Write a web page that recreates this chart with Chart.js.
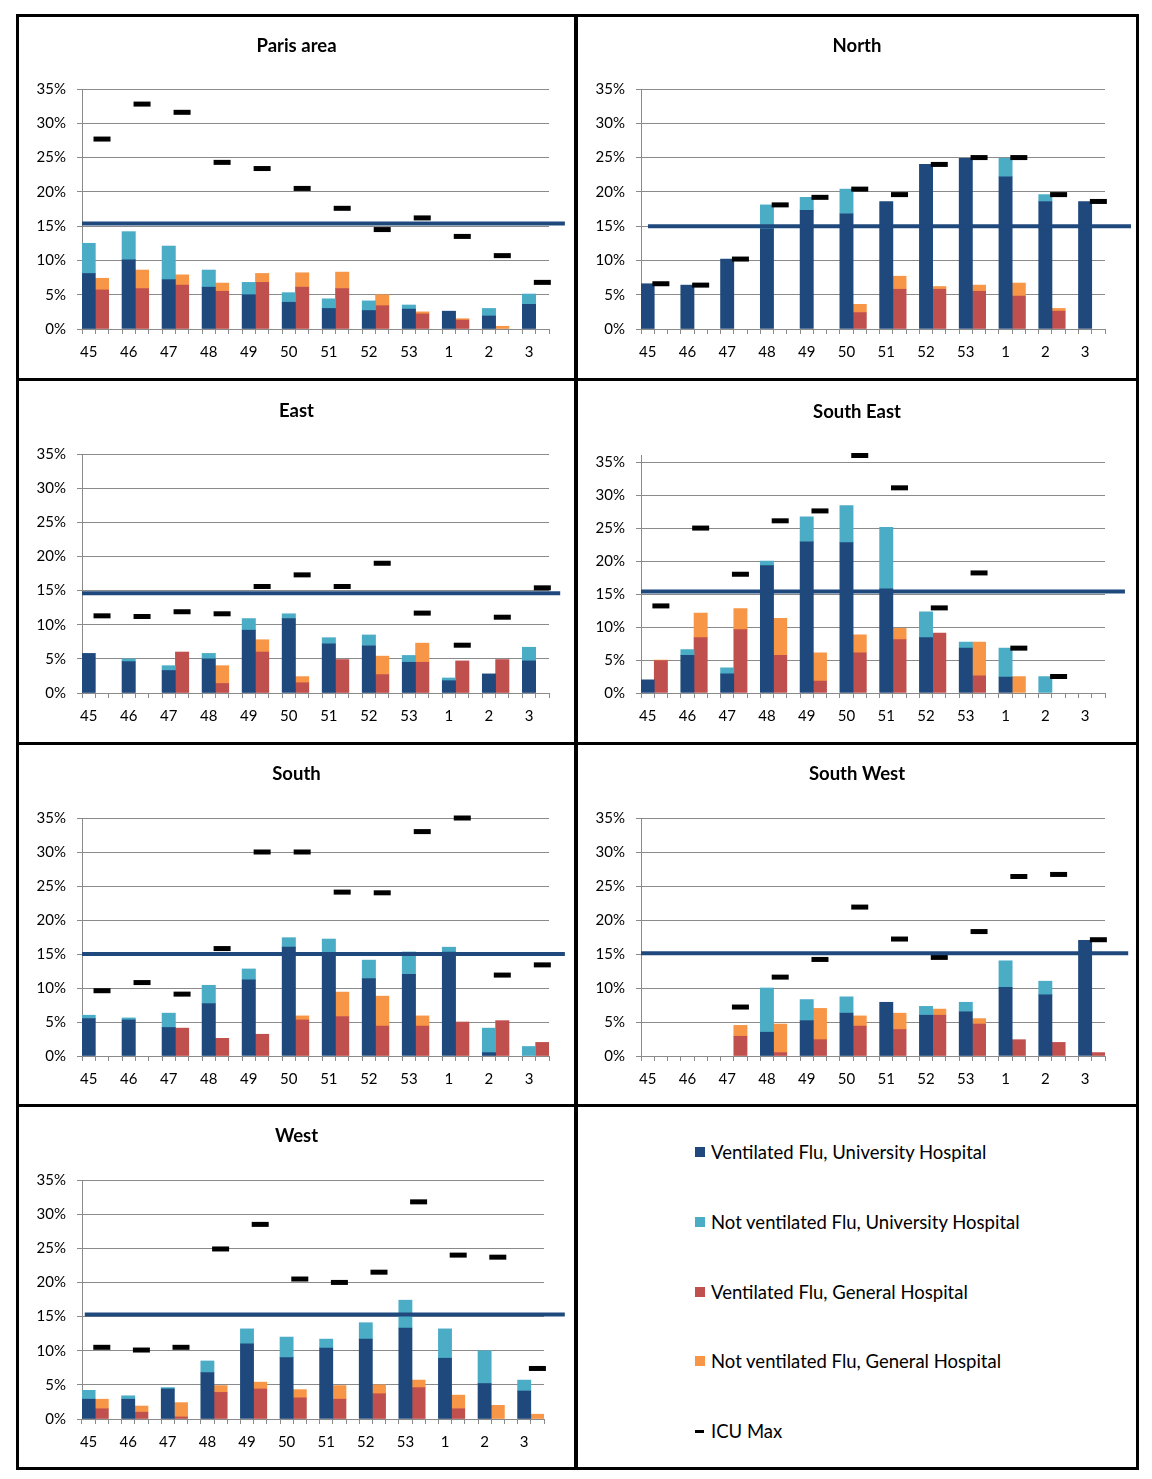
<!DOCTYPE html>
<html><head><meta charset="utf-8">
<script src="https://cdn.jsdelivr.net/npm/chart.js@4.4.1/dist/chart.umd.min.js"></script>
<style>
html,body{margin:0;padding:0;background:#fff;}
body{width:1152px;height:1479px;position:relative;overflow:hidden;font-family:Lato,'Open Sans',sans-serif;}
.bl{position:absolute;background:#000;}
.cell{position:absolute;}
.cell canvas{display:block;}
.lg{position:absolute;left:695px;font-size:18.5px;color:#000;white-space:nowrap;line-height:20px;}
.lg i{position:absolute;left:0;top:5px;width:10px;height:10px;}
.lg span{position:absolute;left:16px;top:0;}
</style></head><body>

<div class="bl" style="left:16px;top:14px;width:1123px;height:3px"></div>
<div class="bl" style="left:16px;top:1467px;width:1123px;height:3px"></div>
<div class="bl" style="left:16px;top:14px;width:3px;height:1456px"></div>
<div class="bl" style="left:1136px;top:14px;width:3px;height:1456px"></div>
<div class="bl" style="left:574px;top:14px;width:4px;height:1456px"></div>
<div class="bl" style="left:16px;top:378px;width:1123px;height:3px"></div>
<div class="bl" style="left:16px;top:742px;width:1123px;height:3px"></div>
<div class="bl" style="left:16px;top:1104px;width:1123px;height:3px"></div>

<div id="c0" class="cell" style="left:19px;top:17px;width:555px;height:361px"><canvas></canvas></div>
<div id="c1" class="cell" style="left:578px;top:17px;width:558px;height:361px"><canvas></canvas></div>
<div id="c2" class="cell" style="left:19px;top:381px;width:555px;height:361px"><canvas></canvas></div>
<div id="c3" class="cell" style="left:578px;top:381px;width:558px;height:361px"><canvas></canvas></div>
<div id="c4" class="cell" style="left:19px;top:745px;width:555px;height:359px"><canvas></canvas></div>
<div id="c5" class="cell" style="left:578px;top:745px;width:558px;height:359px"><canvas></canvas></div>
<div id="c6" class="cell" style="left:19px;top:1107px;width:555px;height:360px"><canvas></canvas></div>

<div id="legend"></div>

<script>
// ---------------- DATA ----------------
const WEEKS = ['45','46','47','48','49','50','51','52','53','1','2','3'];
const SERIES_NAMES = ['Ventilated Flu, University Hospital','Not ventilated Flu, University Hospital','Ventilated Flu, General Hospital','Not ventilated Flu, General Hospital','ICU Max'];
const REGION_NAMES = ['Paris area','North','East','South East','South','South West','West'];

const PARIS_VENT_UNIV    = [8.1,10.1,7.2,6.1,5.0,3.9,3.0,2.7,2.9,2.6,1.9,3.6];
const PARIS_NOTVENT_UNIV = [4.4,4.1,4.9,2.5,1.8,1.4,1.4,1.4,0.6,0,1.1,1.5];
const PARIS_VENT_GEN     = [5.7,5.9,6.4,5.5,6.8,6.1,5.9,3.4,2.2,1.3,0,0];
const PARIS_NOTVENT_GEN  = [1.7,2.7,1.5,1.2,1.3,2.1,2.4,1.6,0.3,0.2,0.4,0];
const PARIS_ICU_MAX      = [27.7,32.8,31.6,24.3,23.4,20.5,17.6,14.5,16.2,13.5,10.7,6.8];

const NORTH_VENT_UNIV    = [6.6,6.4,10.2,14.6,17.3,16.8,18.6,24.0,24.9,22.2,18.6,18.6];
const NORTH_NOTVENT_UNIV = [0,0,0,3.5,1.9,3.6,0,0,0,2.7,1.0,0];
const NORTH_VENT_GEN     = [0,0,0,0,0,2.4,5.8,5.8,5.5,4.8,2.6,0];
const NORTH_NOTVENT_GEN  = [0,0,0,0,0,1.2,1.9,0.4,0.9,1.9,0.4,0];
const NORTH_ICU_MAX      = [6.6,6.4,10.2,18.1,19.2,20.4,19.6,24.0,25.0,25.0,19.6,18.6];

const EAST_VENT_UNIV     = [5.8,4.6,3.3,5.0,9.2,10.9,7.2,6.9,4.5,1.8,2.8,4.7];
const EAST_NOTVENT_UNIV  = [0,0.4,0.7,0.8,1.7,0.7,0.9,1.6,1.0,0.4,0,2.0];
const EAST_VENT_GEN      = [0,0,6.0,1.4,6.0,1.5,4.9,2.7,4.5,4.7,4.9,0];
const EAST_NOTVENT_GEN   = [0,0,0,2.6,1.8,0.9,0,2.7,2.8,0,0,0];
const EAST_ICU_MAX       = [11.3,11.2,11.9,11.6,15.6,17.3,15.6,19.0,11.7,7.0,11.1,15.4];

const SOUTHEAST_VENT_UNIV    = [2.0,5.7,2.9,19.3,22.9,22.8,15.8,8.4,6.8,2.4,0,0];
const SOUTHEAST_NOTVENT_UNIV = [0,0.9,0.9,0.7,3.8,5.6,9.3,3.9,0.9,4.4,2.5,0];
const SOUTHEAST_VENT_GEN     = [4.9,8.4,9.6,5.7,1.8,6.1,8.1,9.1,2.6,0,0,0];
const SOUTHEAST_NOTVENT_GEN  = [0.1,3.7,3.2,5.6,4.3,2.7,1.7,0,5.1,2.5,0,0];
const SOUTHEAST_ICU_MAX      = [13.2,25.0,18.0,26.1,27.6,36.0,31.1,12.9,18.2,6.8,2.5,null];

const SOUTH_VENT_UNIV    = [5.5,5.3,4.2,7.7,11.2,16.0,15.0,11.4,12.0,15.3,0.5,0];
const SOUTH_NOTVENT_UNIV = [0.5,0.3,2.1,2.7,1.6,1.4,2.2,2.7,3.3,0.7,3.6,1.4];
const SOUTH_VENT_GEN     = [0,0,4.1,2.6,3.2,5.3,5.8,4.4,4.4,5.0,5.2,2.0];
const SOUTH_NOTVENT_GEN  = [0,0,0,0,0,0.6,3.6,4.4,1.5,0,0,0];
const SOUTH_ICU_MAX      = [9.6,10.8,9.1,15.8,30.0,30.0,24.1,24.0,33.0,35.0,11.9,13.4];

const SOUTHWEST_VENT_UNIV    = [0,0,0,3.5,5.2,6.3,7.9,6.0,6.5,10.1,9.0,17.0];
const SOUTHWEST_NOTVENT_UNIV = [0,0,0,6.5,3.1,2.4,0,1.3,1.4,3.9,2.0,0];
const SOUTHWEST_VENT_GEN     = [0,0,2.9,0.5,2.4,4.4,3.9,6.0,4.7,2.4,2.0,0.5];
const SOUTHWEST_NOTVENT_GEN  = [0,0,1.6,4.2,4.6,1.5,2.4,0.9,0.8,0,0,0];
const SOUTHWEST_ICU_MAX      = [null,null,7.2,11.6,14.2,21.9,17.2,14.5,18.3,26.4,26.7,17.1];

const WEST_VENT_UNIV    = [2.9,2.9,4.4,6.8,11.0,9.0,10.4,11.7,13.3,8.9,5.2,4.1];
const WEST_NOTVENT_UNIV = [1.3,0.5,0.2,1.7,2.2,3.0,1.3,2.4,4.1,4.3,4.8,1.6];
const WEST_VENT_GEN     = [1.5,1.0,0.3,3.9,4.4,3.1,2.9,3.7,4.6,1.5,0,0];
const WEST_NOTVENT_GEN  = [1.4,0.9,2.1,1.0,1.0,1.2,2.0,1.3,1.1,2.0,2.0,0.7];
const WEST_ICU_MAX      = [10.5,10.1,10.5,24.9,28.5,20.5,20.0,21.5,31.8,24.0,23.7,7.4];

// horizontal reference level per region (%)
const THRESHOLDS = [15.4,15.0,14.6,15.4,15.0,15.1,15.3];
const Y_TICK_VALUES = [0,5,10,15,20,25,30,35];

// ---------------- STYLE / LAYOUT ----------------
const COLORS = ['#1F497D','#4BACC6','#C0504D','#F79646'];
const FONT = "Lato, 'Open Sans', sans-serif";
const GRID = '#8a8a8a';
// per panel: title centre, plot top / bottom (px from cell top), right margin, y max, reference-line extent (fraction of plot width)
const LAYOUT = [
  {titleY:29, plotTop:72, plotBottom:312, padRight:25, yMax:35, span:[0,1.034]},
  {titleY:29, plotTop:72, plotBottom:312, padRight:31, yMax:35, span:[0.015,1.056]},
  {titleY:30, plotTop:73, plotBottom:312, padRight:25, yMax:35, span:[0,1.024]},
  {titleY:31, plotTop:74.5, plotBottom:312, padRight:31, yMax:36, span:[0,1.043]},
  {titleY:29, plotTop:73, plotBottom:311, padRight:25, yMax:35, span:[0,1.034]},
  {titleY:29, plotTop:73, plotBottom:311, padRight:31, yMax:35, span:[0,1.05]},
  {titleY:29, plotTop:73, plotBottom:312, padRight:30, yMax:35, span:[0.006,1.045]}
];

const REGION_DATA = [
  [PARIS_VENT_UNIV,PARIS_NOTVENT_UNIV,PARIS_VENT_GEN,PARIS_NOTVENT_GEN,PARIS_ICU_MAX],
  [NORTH_VENT_UNIV,NORTH_NOTVENT_UNIV,NORTH_VENT_GEN,NORTH_NOTVENT_GEN,NORTH_ICU_MAX],
  [EAST_VENT_UNIV,EAST_NOTVENT_UNIV,EAST_VENT_GEN,EAST_NOTVENT_GEN,EAST_ICU_MAX],
  [SOUTHEAST_VENT_UNIV,SOUTHEAST_NOTVENT_UNIV,SOUTHEAST_VENT_GEN,SOUTHEAST_NOTVENT_GEN,SOUTHEAST_ICU_MAX],
  [SOUTH_VENT_UNIV,SOUTH_NOTVENT_UNIV,SOUTH_VENT_GEN,SOUTH_NOTVENT_GEN,SOUTH_ICU_MAX],
  [SOUTHWEST_VENT_UNIV,SOUTHWEST_NOTVENT_UNIV,SOUTHWEST_VENT_GEN,SOUTHWEST_NOTVENT_GEN,SOUTHWEST_ICU_MAX],
  [WEST_VENT_UNIV,WEST_NOTVENT_UNIV,WEST_VENT_GEN,WEST_NOTVENT_GEN,WEST_ICU_MAX]
];

// slot axis: for every week a University slot, a General slot and a gap (none after the last week)
const NSLOTS = WEEKS.length * 3 - 1;
const SLOT_LABELS = [];
for (let s = 0; s < NSLOTS; s++) SLOT_LABELS.push(s % 3 === 0 ? WEEKS[s / 3] : '');
function toSlots(arr, offset) {
  const out = new Array(NSLOTS).fill(null);
  arr.forEach((v, i) => { out[i * 3 + offset] = (v === null || v === 0 ? null : v); });
  return out;
}

function makeChart(idx) {
  const L = LAYOUT[idx];
  const d = REGION_DATA[idx];
  const cell = document.getElementById('c' + idx);
  const H = cell.clientHeight;
  const TITLE_SIZE = 18.5;
  const titleLH = TITLE_SIZE * 1.2;
  const tPadTop = L.titleY - titleLH / 2;
  const tPadBottom = L.plotTop - tPadTop - titleLH;
  const bar = (k, offset) => ({
    type:'bar', label:SERIES_NAMES[k], data:toSlots(d[k], offset), backgroundColor:COLORS[k],
    xAxisID:'x', yAxisID:'y', order:2, stack:'s', grouped:false,
    barPercentage:1, categoryPercentage:1, borderWidth:0
  });
  const datasets = [
    {type:'line', label:'threshold', xAxisID:'xl', yAxisID:'y', order:0, stack:'thr',
     data:[{x:L.span[0], y:THRESHOLDS[idx]},{x:L.span[1], y:THRESHOLDS[idx]}],
     borderColor:'#1F497D', borderWidth:4, pointRadius:0, clip:false, borderCapStyle:'butt'},
    {type:'line', label:SERIES_NAMES[4], xAxisID:'x2', yAxisID:'y', order:1, stack:'icu',
     data:toSlots(d[4],1), showLine:false, pointStyle:'line', pointRadius:8.5, pointHoverRadius:8.5,
     pointBorderWidth:5, pointBorderColor:'#000', pointBackgroundColor:'#000', borderColor:'#000', clip:false},
    bar(0,0), bar(1,0), bar(2,1), bar(3,1)
  ];

  new Chart(cell.querySelector('canvas'), {
    type:'bar',
    data:{labels:SLOT_LABELS, datasets},
    options:{
      responsive:true, maintainAspectRatio:false, animation:false,
      layout:{padding:0},
      plugins:{
        legend:{display:false}, tooltip:{enabled:false},
        title:{display:true, text:REGION_NAMES[idx], color:'#000',
               font:{family:FONT, size:TITLE_SIZE, weight:'bold', lineHeight:1.2},
               padding:{top:tPadTop, bottom:tPadBottom}}
      },
      scales:{
        x:{type:'category', stacked:true, offset:true,
           grid:{offset:true, drawOnChartArea:false, drawTicks:true, tickLength:5, color:GRID},
           border:{display:true, color:GRID, width:1},
           ticks:{autoSkip:false, maxRotation:0, minRotation:0, padding:9, color:'#000',
                  font:{family:FONT, size:15}},
           afterFit:(s)=>{ s.height = H - L.plotBottom; }},
        x2:{type:'category', labels:SLOT_LABELS, display:false, offset:true, grid:{offset:true}},
        xl:{type:'linear', display:false, offset:false, min:0, max:1},
        y:{type:'linear', stacked:true, min:0, max:L.yMax, position:'left',
           grid:{color:GRID, tickLength:5, drawTicks:true},
           border:{display:true, color:GRID, width:1},
           afterBuildTicks:(s)=>{ s.ticks = Y_TICK_VALUES.map(v=>({value:v})); },
           ticks:{padding:11, color:'#000', font:{family:FONT, size:15}, callback:(v)=>v + '%'},
           afterFit:(s)=>{ s.width = 63; }},
        // empty right-hand margin (keeps the title centred on the whole panel)
        yr:{type:'linear', position:'right', display:true, min:0, max:1,
            grid:{display:false, drawOnChartArea:false}, border:{display:false},
            ticks:{display:false},
            afterFit:(s)=>{ s.width = L.padRight; }}
      }
    }
  });
}

function makeLegend() {
  const host = document.getElementById('legend');
  const ys = [1152,1222,1292,1361,1431];
  SERIES_NAMES.forEach((name, i) => {
    const div = document.createElement('div');
    div.className = 'lg';
    div.style.top = (ys[i] - 10) + 'px';
    const mk = document.createElement('i');
    if (i < 4) { mk.style.background = COLORS[i]; }
    else { mk.style.background = '#000'; mk.style.height = '2.5px'; mk.style.top = '9px'; mk.style.width = '9px'; }
    const sp = document.createElement('span');
    sp.textContent = name;
    div.appendChild(mk); div.appendChild(sp);
    host.appendChild(div);
  });
}

function init() {
  for (let i = 0; i < 7; i++) makeChart(i);
  makeLegend();
}
if (document.fonts && document.fonts.load) {
  Promise.all([document.fonts.load("15px Lato"), document.fonts.load("bold 18px Lato")]).then(init, init);
} else { init(); }
</script>
</body></html>
